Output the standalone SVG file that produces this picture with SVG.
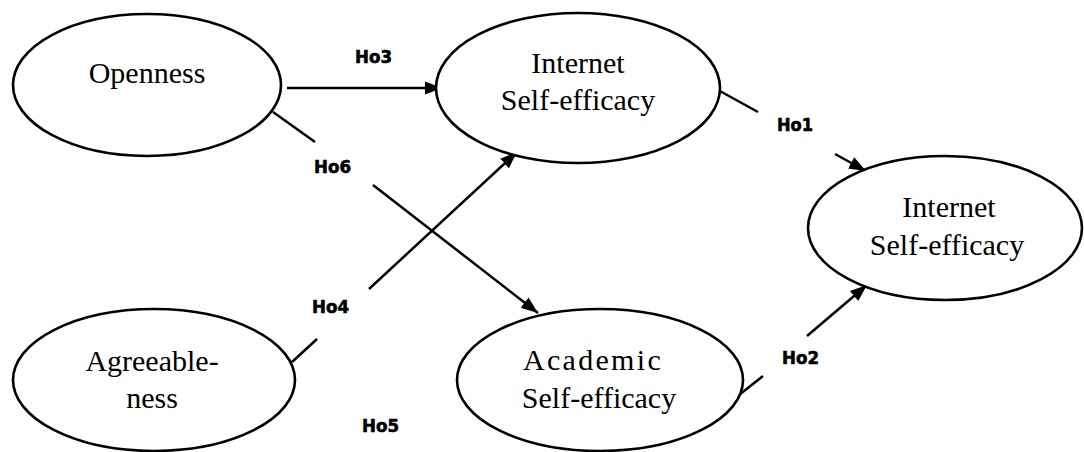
<svg xmlns="http://www.w3.org/2000/svg" width="1084" height="452" viewBox="0 0 1084 452">
  <defs>
    <marker id="arrow" markerUnits="userSpaceOnUse" markerWidth="20" markerHeight="16" refX="17" refY="8" orient="auto">
      <path d="M0,1.5 L17,8 L0,14.5 z" fill="#000"/>
    </marker>
    <style>
      .node ellipse { fill: #fff; stroke: #000; stroke-width: 2.6; }
      .node text { font-family: "Liberation Serif", "Times New Roman", serif; font-size: 30px; fill: #000; text-anchor: middle; }
      .edge { stroke: #000; stroke-width: 2.5; fill: none; }
      .label { font-family: "DejaVu Sans", sans-serif; font-weight: bold; font-size: 17px; fill: #000; stroke: #000; stroke-width: 0.6; }
    </style>
  </defs>

  <!-- connectors: each path is split where its hypothesis label sits -->
  <g id="connectors">
    <!-- Ho3: Openness -> Internet Self-efficacy -->
    <line class="edge" x1="287" y1="88" x2="442" y2="88" marker-end="url(#arrow)"/>
    <text class="label" x="355" y="63" textLength="37" lengthAdjust="spacingAndGlyphs">Ho3</text>
    <!-- Ho6: Openness -> Academic Self-efficacy -->
    <line class="edge" x1="273" y1="112" x2="315" y2="142"/>
    <line class="edge" x1="373" y1="185" x2="538" y2="313" marker-end="url(#arrow)"/>
    <text class="label" x="314" y="173" textLength="37" lengthAdjust="spacingAndGlyphs">Ho6</text>
    <!-- Ho4: Agreeableness -> Internet Self-efficacy -->
    <line class="edge" x1="292" y1="362" x2="317" y2="339"/>
    <line class="edge" x1="369" y1="289" x2="517" y2="152" marker-end="url(#arrow)"/>
    <text class="label" x="312" y="313" textLength="37" lengthAdjust="spacingAndGlyphs">Ho4</text>
    <!-- Ho5 -->
    <text class="label" x="362" y="432" textLength="37" lengthAdjust="spacingAndGlyphs">Ho5</text>
    <!-- Ho1: Internet Self-efficacy -> Internet Self-efficacy (right) -->
    <line class="edge" x1="718" y1="90" x2="758" y2="112"/>
    <line class="edge" x1="835" y1="154" x2="866" y2="171" marker-end="url(#arrow)"/>
    <text class="label" x="777" y="131" textLength="36" lengthAdjust="spacingAndGlyphs">Ho1</text>
    <!-- Ho2: Academic Self-efficacy -> Internet Self-efficacy (right) -->
    <line class="edge" x1="739" y1="395" x2="763" y2="376"/>
    <line class="edge" x1="807" y1="336" x2="867" y2="285" marker-end="url(#arrow)"/>
    <text class="label" x="782" y="364" textLength="37" lengthAdjust="spacingAndGlyphs">Ho2</text>
  </g>

  <g id="openness" class="node">
    <ellipse cx="147" cy="85" rx="134" ry="71"/>
    <text x="147" y="83">Openness</text>
  </g>

  <g id="internet-self-efficacy" class="node">
    <ellipse cx="578" cy="88" rx="142" ry="75"/>
    <text x="578" y="73">Internet</text>
    <text x="578" y="110">Self-efficacy</text>
  </g>

  <g id="internet-self-efficacy-outcome" class="node">
    <ellipse cx="945" cy="228" rx="137" ry="72"/>
    <text x="949" y="217">Internet</text>
    <text x="947" y="255">Self-efficacy</text>
  </g>

  <g id="agreeableness" class="node">
    <ellipse cx="154" cy="380" rx="141" ry="71"/>
    <text x="152" y="371">Agreeable-</text>
    <text x="152" y="408">ness</text>
  </g>

  <g id="academic-self-efficacy" class="node">
    <ellipse cx="600" cy="380" rx="143" ry="71"/>
    <text x="593" y="370" letter-spacing="2.3">Academic</text>
    <text x="599" y="408">Self-efficacy</text>
  </g>
</svg>
